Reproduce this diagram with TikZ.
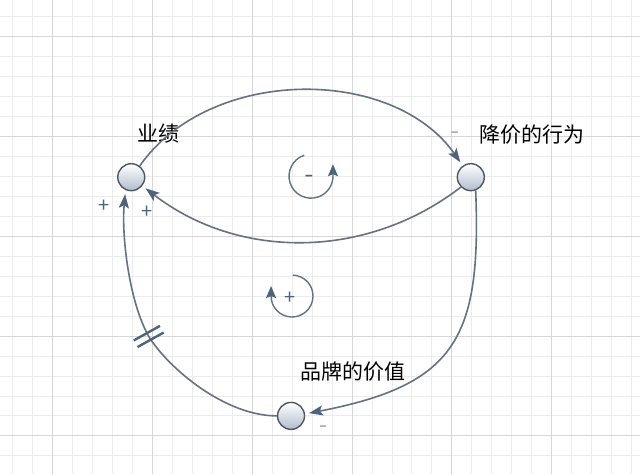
\documentclass[tikz,border=0pt]{standalone}
\usepackage{fontspec}
\newfontfamily\cjk{Noto Sans CJK SC}
\usetikzlibrary{arrows.meta,positioning}
\definecolor{linecol}{RGB}{100,114,130}
\definecolor{tipcol}{RGB}{78,100,124}
\definecolor{rimcol}{RGB}{80,86,94}
\definecolor{fillcol}{RGB}{176,189,206}
\definecolor{gridminor}{RGB}{236,236,236}
\definecolor{gridmajor}{RGB}{214,214,214}

\begin{document}
\begin{tikzpicture}[x=1pt, y=-1pt,
    var/.style={circle, draw=rimcol, line width=1.4pt, top color=white, bottom color=fillcol, minimum size=27pt, inner sep=0pt},
    lbl/.style={font=\cjk\fontsize{21}{25}\selectfont, inner sep=0pt},
    sgn/.style={font=\cjk\fontsize{20}{22}\selectfont, text=tipcol, inner sep=0pt},
    link/.style={draw=linecol, line width=1.6pt, shorten >=4pt, -{Stealth[length=14pt, width=10pt, inset=3pt, color=tipcol, fill=tipcol]}},
    loopline/.style={draw=linecol, line width=1.4pt, -{Stealth[length=12pt, width=10pt, inset=2pt, color=tipcol, fill=tipcol]}}
]

% Grid paper
\fill[white] (0,0) rectangle (640,474);
\foreach \gx in {12,32,...,632} \draw[gridminor, line width=0.8pt] (\gx,0) -- (\gx,474);
\foreach \gy in {16,36,...,456} \draw[gridminor, line width=0.8pt] (0,\gy) -- (640,\gy);
\foreach \gx in {52,152,...,552} \draw[gridmajor, line width=0.8pt] (\gx,0) -- (\gx,474);
\foreach \gy in {36,136,...,436} \draw[gridmajor, line width=0.8pt] (0,\gy) -- (640,\gy);

% Variables
\node[var] (yj) at (131,177) {};
\node[var] (jj) at (471,177) {};
\node[var] (pp) at (291,416) {};

\node[lbl] (yjlbl) at (158,133) {业绩};
\node[lbl] (jjlbl) at (532,134) {降价的行为};
\node[lbl] (pplbl) at (353,372) {品牌的价值};

% Links
\draw[link] (yj.53) .. controls +(70,-100) and +(-70,-100) .. (jj.125);
\draw[link] (jj.225) .. controls +(-95,73) and +(96,74) .. (yj.322);
\draw[link] (jj.290) .. controls +(6,149) and +(150,-29) .. (pp.8);
\coordinate (hash) at (148.5,336.5);
\draw[link] (pp.west) .. controls +(-52,0) and +(20,32) .. (hash)
    .. controls +(-20,-36) and +(-4,45) .. (yj.246);

% Delay mark
\begin{scope}[shift={(hash)}, rotate=29]
\draw[tipcol, line width=2.4pt] (-15,-3.8) -- (15,-3.8);
\draw[tipcol, line width=2.4pt] (-15,3.8) -- (15,3.8);
\end{scope}

% Polarities
\node[sgn] (s1) at (104,206) {+};
\node[sgn] (s2) at (147,212) {+};
\node[sgn, font=\cjk\fontsize{14}{16}\selectfont] (s3) at (455,134) {–};
\node[sgn, font=\cjk\fontsize{14}{16}\selectfont] (s4) at (323,428) {–};

% Loop markers
\draw[loopline] (311,176) ++(-108:22) arc[start angle=-108, end angle=-360, radius=22] -- ++(0,-12);
\node[sgn, font=\cjk\bfseries\fontsize{15}{16}\selectfont] (neg) at (309,178) {–};
\draw[loopline] (292,296) ++(-88:21) arc[start angle=-88, end angle=180, radius=21] -- ++(0,-10);
\node[sgn] (pos) at (290,298) {+};

\end{tikzpicture}
\end{document}
